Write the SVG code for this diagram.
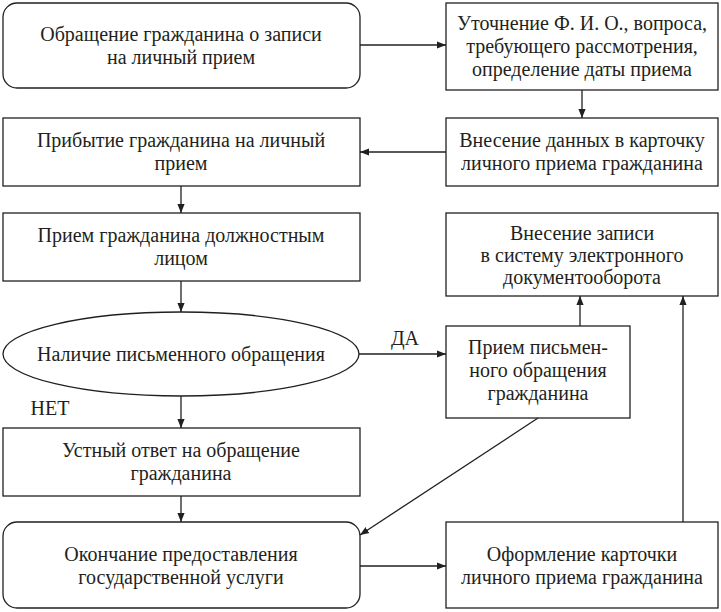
<svg xmlns="http://www.w3.org/2000/svg" width="721" height="612" viewBox="0 0 721 612">
<style>
.b{fill:#fff;stroke:#231f20;stroke-width:1.3}
.t{font-family:"Liberation Serif",serif;font-size:20px;fill:#231f20;text-anchor:middle}
.c{stroke:#231f20;stroke-width:1.3;fill:none;marker-end:url(#a)}
</style>
<defs><marker id="a" viewBox="0 0 10 10" refX="10" refY="5" markerWidth="9" markerHeight="9" markerUnits="userSpaceOnUse" orient="auto"><path d="M0,1 L10,5 L0,9 Z" fill="#231f20"/></marker></defs>
<rect width="721" height="612" fill="#fff"/>
<g id="n1"><rect class="b" x="3" y="3" width="357" height="85" rx="14"/><text class="t" x="181" y="41">Обращение гражданина о записи</text><text class="t" x="181" y="64">на личный прием</text></g>
<g id="n2"><rect class="b" x="446" y="3" width="272" height="87"/><text class="t" x="582" y="30">Уточнение Ф. И. О., вопроса,</text><text class="t" x="582" y="53">требующего рассмотрения,</text><text class="t" x="582" y="76">определение даты приема</text></g>
<g id="n3"><rect class="b" x="446" y="118" width="272" height="68"/><text class="t" x="582" y="147">Внесение данных в карточку</text><text class="t" x="582" y="170">личного приема гражданина</text></g>
<g id="n4"><rect class="b" x="3" y="118" width="357" height="68"/><text class="t" x="181" y="147">Прибытие гражданина на личный</text><text class="t" x="181" y="170">прием</text></g>
<g id="n5"><rect class="b" x="3" y="213" width="357" height="68"/><text class="t" x="181" y="242">Прием гражданина должностным</text><text class="t" x="181" y="265">лицом</text></g>
<g id="n6"><rect class="b" x="446" y="213" width="272" height="83"/><text class="t" x="582" y="240">Внесение записи</text><text class="t" x="582" y="262">в систему электронного</text><text class="t" x="582" y="284">документооборота</text></g>
<g id="n7"><ellipse class="b" cx="181" cy="354" rx="178" ry="42"/><text class="t" x="181" y="361">Наличие письменного обращения</text></g>
<g id="n8"><rect class="b" x="446" y="326" width="184" height="92"/><text class="t" x="538" y="354">Прием письмен-</text><text class="t" x="538" y="377">ного обращения</text><text class="t" x="538" y="400">гражданина</text></g>
<g id="n9"><rect class="b" x="3" y="428" width="357" height="68"/><text class="t" x="181" y="457">Устный ответ на обращение</text><text class="t" x="181" y="480">гражданина</text></g>
<g id="n10"><rect class="b" x="3" y="522" width="357" height="86" rx="14"/><text class="t" x="181" y="561">Окончание предоставления</text><text class="t" x="181" y="584">государственной услуги</text></g>
<g id="n11"><rect class="b" x="446" y="522" width="272" height="86"/><text class="t" x="582" y="561">Оформление карточки</text><text class="t" x="582" y="584">личного приема гражданина</text></g>
<g id="connectors">
<line class="c" x1="360" y1="45" x2="446" y2="45"/>
<line class="c" x1="582" y1="90" x2="582" y2="118"/>
<line class="c" x1="446" y1="152" x2="360" y2="152"/>
<line class="c" x1="181" y1="186" x2="181" y2="213"/>
<line class="c" x1="181" y1="281" x2="181" y2="312"/>
<line class="c" x1="359" y1="354" x2="446" y2="354"/>
<line class="c" x1="580" y1="326" x2="580" y2="296"/>
<line class="c" x1="181" y1="396" x2="181" y2="428"/>
<line class="c" x1="181" y1="496" x2="181" y2="522"/>
<line class="c" x1="538" y1="418" x2="360" y2="535"/>
<line class="c" x1="360" y1="566" x2="446" y2="566"/>
<line class="c" x1="683" y1="522" x2="683" y2="296"/>
<text class="t" x="405" y="345">ДА</text>
<text class="t" x="50" y="415">НЕТ</text>
</g>
</svg>
